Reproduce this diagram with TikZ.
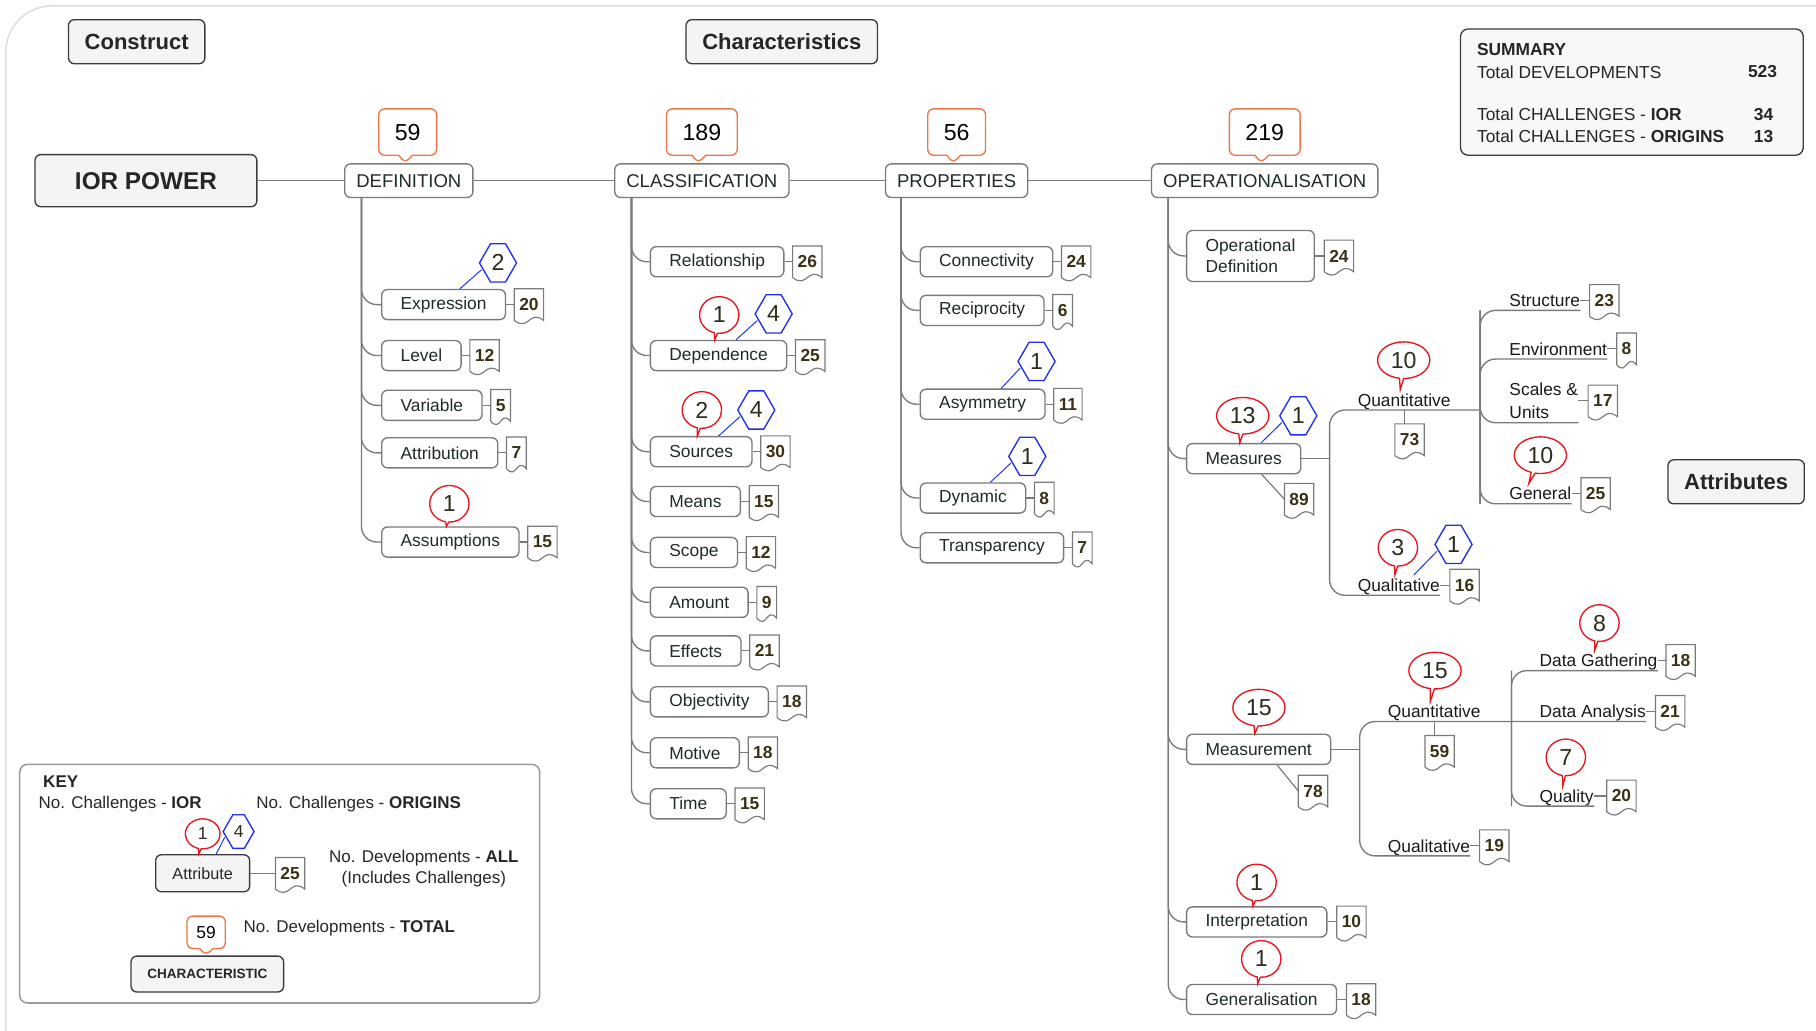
\documentclass[tikz,border=0pt]{standalone}
\usepackage{fontspec}
\setmainfont{Liberation Sans}
\usetikzlibrary{positioning, shapes.callouts, shapes.symbols}

\definecolor{boxtext}{HTML}{1F2A2A}
\definecolor{tagtext}{HTML}{3A3115}
\definecolor{calltext}{HTML}{2E2A1E}
\definecolor{linegray}{HTML}{7A7A7A}
\definecolor{boxborder}{HTML}{7A7A7A}
\definecolor{iorred}{HTML}{E8141E}
\definecolor{originblue}{HTML}{1F2FEF}
\definecolor{totalorange}{HTML}{F0764A}
\definecolor{headfill}{HTML}{F4F4F4}
\definecolor{headborder}{HTML}{3C3C3C}
\definecolor{framegray}{HTML}{DEDEDE}
\definecolor{keygray}{HTML}{9A9A9A}
\definecolor{sumfill}{HTML}{F8F8F8}

\begin{document}
\begin{tikzpicture}[
    x=0.6pt, y=-0.6pt,
    head/.style={draw=headborder, fill=headfill, rounded corners=3pt, line width=0.7pt,
        font=\bfseries\fontsize{11.4}{13}\selectfont, text=black!85, inner xsep=8.4pt, minimum height=22.8pt},
    charbox/.style={draw=boxborder, rounded corners=3pt, line width=0.7pt,
        font=\fontsize{9.6}{11}\selectfont, text=boxtext, inner xsep=6pt, minimum height=17.4pt},
    attr/.style={draw=boxborder, rounded corners=3pt, line width=0.7pt, anchor=west,
        font=\fontsize{9}{10.8}\selectfont, text=boxtext, inner xsep=9.8pt, minimum height=15.6pt},
    leaf/.style={anchor=south west, font=\fontsize{9}{12}\selectfont, text=black!90,
        inner xsep=0pt, inner ysep=1.8pt, text depth=0pt},
    devtag/.style={anchor=west, font=\bfseries\fontsize{9}{10}\selectfont, text=tagtext,
        inner xsep=2.4pt, inner ysep=0pt, minimum height=16pt,
        append after command={\pgfextra{\let\tg\tikzlastnode
            \draw[boxborder, line width=0.6pt] (\tg.south west) -- (\tg.north west)
                -- (\tg.north east) -- (\tg.south east)
                .. controls ([yshift=6pt]\tg.south) and ([yshift=-6pt]\tg.south) .. (\tg.south west);}}},
    total/.style={rectangle callout, draw=totalorange, line width=0.7pt, rounded corners=3pt,
        font=\fontsize{12}{14}\selectfont, inner xsep=8.3pt, minimum height=24pt},
    ior/.style={ellipse callout, callout pointer arc=9, draw=iorred, line width=0.7pt, font=\fontsize{12}{14}\selectfont,
        text=calltext, inner xsep=2.9pt, inner ysep=0pt, minimum width=20.4pt, minimum height=19pt},
    origin/.style={signal, signal to=west and east, signal pointer angle=120, draw=originblue,
        line width=0.7pt, font=\fontsize{12}{14}\selectfont, text=calltext, inner sep=0pt,
        minimum width=19.2pt, minimum height=19.8pt},
    keytext/.style={font=\fontsize{8.8}{10.8}\selectfont, text=black!85, inner sep=0pt},
    sumtext/.style={anchor=west, font=\fontsize{9}{11}\selectfont, text=black!85, inner sep=0pt},
    branch/.style={draw=linegray, line width=0.7pt, rounded corners=8pt},
    link/.style={draw=linegray, line width=0.6pt},
    olink/.style={draw=originblue, line width=0.5pt}
]
\useasboundingbox (0,0) rectangle (1568,890);
\draw[framegray, line width=0.8pt, rounded corners=24pt] (5,5) rectangle (1640,940);

% headings
\node[head] (construct) at (118,36) {Construct};
\node[head] (charac) at (675,36) {Characteristics};
\node[head] (attrhead) at (1499,416) {Attributes};
\node[head, font=\bfseries\fontsize{12.6}{14}\selectfont, inner xsep=20.7pt, minimum height=27pt] (ior) at (126,156) {IOR POWER};

% characteristics
\node[charbox] (defn) at (353,156) {DEFINITION};
\node[charbox] (class) at (606,156) {CLASSIFICATION};
\node[charbox] (props) at (826,156) {PROPERTIES};
\node[charbox] (oper) at (1092,156) {OPERATIONALISATION};
\draw[link] (ior) -- (defn) -- (class) -- (props) -- (oper);

\node[total, callout absolute pointer={([xshift=-2pt]defn.north)}] (defn-t) at (352,114) {59};
\node[total, callout absolute pointer={([xshift=-2pt]class.north)}] (class-t) at (606,114) {189};
\node[total, callout absolute pointer={([xshift=-2pt]props.north)}] (props-t) at (826,114) {56};
\node[total, callout absolute pointer={([xshift=-2pt]oper.north)}] (oper-t) at (1092,114) {219};

% definition
\node[attr] (expr) at (329,263) {Expression};
\node[attr] (level) at (329,307) {Level};
\node[attr] (var) at (329,350) {Variable};
\node[attr] (attrb) at (329,391) {Attribution};
\node[attr] (assum) at (329,468) {Assumptions};
\node[devtag, right=4.2pt of expr] (expr-n) {20};
\node[devtag, right=4.2pt of level] (level-n) {12};
\node[devtag, right=4.2pt of var] (var-n) {5};
\node[devtag, right=4.2pt of attrb] (attrb-n) {7};
\node[devtag, right=4.2pt of assum] (assum-n) {15};
\node[origin] (expr-o) at (430,227) {2};
\node[ior, callout absolute pointer={([xshift=-2pt]assum.north)}] (assum-i) at (388,435) {1};

\draw[branch] ([xshift=9pt]defn.south west) |- (expr.west);
\draw[branch] ([xshift=9pt]defn.south west) |- (level.west);
\draw[branch] ([xshift=9pt]defn.south west) |- (var.west);
\draw[branch] ([xshift=9pt]defn.south west) |- (attrb.west);
\draw[branch] ([xshift=9pt]defn.south west) |- (assum.west);
\draw[link] (expr) -- (expr-n);
\draw[link] (level) -- (level-n);
\draw[link] (var) -- (var-n);
\draw[link] (attrb) -- (attrb-n);
\draw[link] (assum) -- (assum-n);
\draw[olink] ([xshift=8.4pt]expr.north) -- ([shift={(1.5pt,-3.5pt)}]expr-o.west);

% classification
\node[attr] (rel) at (561,226) {Relationship};
\node[attr] (dep) at (561,307) {Dependence};
\node[attr] (src) at (561,390) {Sources};
\node[attr] (means) at (561,433) {Means};
\node[attr] (scope) at (561,477) {Scope};
\node[attr] (amount) at (561,520) {Amount};
\node[attr] (effects) at (561,562) {Effects};
\node[attr] (object) at (561,606) {Objectivity};
\node[attr] (motive) at (561,650) {Motive};
\node[attr] (time) at (561,694) {Time};
\node[devtag, right=4.2pt of rel] (rel-n) {26};
\node[devtag, right=4.2pt of dep] (dep-n) {25};
\node[devtag, right=4.2pt of src] (src-n) {30};
\node[devtag, right=4.2pt of means] (means-n) {15};
\node[devtag, right=4.2pt of scope] (scope-n) {12};
\node[devtag, right=4.2pt of amount] (amount-n) {9};
\node[devtag, right=4.2pt of effects] (effects-n) {21};
\node[devtag, right=4.2pt of object] (object-n) {18};
\node[devtag, right=4.2pt of motive] (motive-n) {18};
\node[devtag, right=4.2pt of time] (time-n) {15};
\node[ior, callout absolute pointer={([xshift=-2pt]dep.north)}] (dep-i) at (621,272) {1};
\node[origin] (dep-o) at (668,271) {4};
\node[ior, callout absolute pointer={([xshift=-2pt]src.north)}] (src-i) at (606,354) {2};
\node[origin] (src-o) at (653,354) {4};

\draw[branch] ([xshift=9pt]class.south west) |- (rel.west);
\draw[branch] ([xshift=9pt]class.south west) |- (dep.west);
\draw[branch] ([xshift=9pt]class.south west) |- (src.west);
\draw[branch] ([xshift=9pt]class.south west) |- (means.west);
\draw[branch] ([xshift=9pt]class.south west) |- (scope.west);
\draw[branch] ([xshift=9pt]class.south west) |- (amount.west);
\draw[branch] ([xshift=9pt]class.south west) |- (effects.west);
\draw[branch] ([xshift=9pt]class.south west) |- (object.west);
\draw[branch] ([xshift=9pt]class.south west) |- (motive.west);
\draw[branch] ([xshift=9pt]class.south west) |- (time.west);
\draw[link] (rel) -- (rel-n);
\draw[link] (dep) -- (dep-n);
\draw[link] (src) -- (src-n);
\draw[link] (means) -- (means-n);
\draw[link] (scope) -- (scope-n);
\draw[link] (amount) -- (amount-n);
\draw[link] (effects) -- (effects-n);
\draw[link] (object) -- (object-n);
\draw[link] (motive) -- (motive-n);
\draw[link] (time) -- (time-n);
\draw[olink] ([xshift=9pt]dep.north) -- ([shift={(1.5pt,-3.5pt)}]dep-o.west);
\draw[olink] ([xshift=9pt]src.north) -- ([shift={(1.5pt,-3.5pt)}]src-o.west);

% properties
\node[attr] (conn) at (794,226) {Connectivity};
\node[attr] (recip) at (794,268) {Reciprocity};
\node[attr] (asym) at (794,349) {Asymmetry};
\node[attr] (dyn) at (794,430) {Dynamic};
\node[attr] (transp) at (794,473) {Transparency};
\node[devtag, right=4.2pt of conn] (conn-n) {24};
\node[devtag, right=4.2pt of recip] (recip-n) {6};
\node[devtag, right=4.2pt of asym] (asym-n) {11};
\node[devtag, right=4.2pt of dyn] (dyn-n) {8};
\node[devtag, right=4.2pt of transp] (transp-n) {7};
\node[origin] (asym-o) at (895,312) {1};
\node[origin] (dyn-o) at (887,394) {1};

\draw[branch] ([xshift=8.4pt]props.south west) |- (conn.west);
\draw[branch] ([xshift=8.4pt]props.south west) |- (recip.west);
\draw[branch] ([xshift=8.4pt]props.south west) |- (asym.west);
\draw[branch] ([xshift=8.4pt]props.south west) |- (dyn.west);
\draw[branch] ([xshift=8.4pt]props.south west) |- (transp.west);
\draw[link] (conn) -- (conn-n);
\draw[link] (recip) -- (recip-n);
\draw[link] (asym) -- (asym-n);
\draw[link] (dyn) -- (dyn-n);
\draw[link] (transp) -- (transp-n);
\draw[olink] ([xshift=9.6pt]asym.north) -- ([shift={(1.5pt,-3.5pt)}]asym-o.west);
\draw[olink] ([xshift=9pt]dyn.north) -- ([shift={(1.5pt,-3.5pt)}]dyn-o.west);

% operationalisation
\node[attr, align=left, minimum height=26.4pt] (opdef) at (1024,221) {Operational\\Definition};
\node[attr] (meas) at (1024,396) {Measures};
\node[attr] (measmt) at (1024,647) {Measurement};
\node[attr] (interp) at (1024,796) {Interpretation};
\node[attr] (gener) at (1024,863) {Generalisation};
\node[devtag, right=4.8pt of opdef] (opdef-n) {24};
\node[devtag] (meas-n) at (1109,431) {89};
\node[devtag] (measmt-n) at (1121,683) {78};
\node[devtag, right=4.8pt of interp] (interp-n) {10};
\node[devtag, right=4.8pt of gener] (gener-n) {18};
\node[ior, inner xsep=2.9pt, callout absolute pointer={([xshift=-2pt]meas.north)}] (meas-i) at (1073,359) {13};
\node[origin] (meas-o) at (1121,359) {1};
\node[ior, callout absolute pointer={([xshift=-2pt]measmt.north)}] (measmt-i) at (1087,611) {15};
\node[ior, callout absolute pointer={([xshift=-2pt]interp.north)}] (interp-i) at (1085,762) {1};
\node[ior, callout absolute pointer={([xshift=-2pt]gener.north)}] (gener-i) at (1089,828) {1};

\draw[branch] ([xshift=9pt]oper.south west) |- (opdef.west);
\draw[branch] ([xshift=9pt]oper.south west) |- (meas.west);
\draw[branch] ([xshift=9pt]oper.south west) |- (measmt.west);
\draw[branch] ([xshift=9pt]oper.south west) |- (interp.west);
\draw[branch] ([xshift=9pt]oper.south west) |- (gener.west);
\draw[link] (opdef) -- (opdef-n);
\draw[link] ([xshift=9.3pt]meas.south) -- (meas-n.west);
\draw[link] ([xshift=9.6pt]measmt.south) -- (measmt-n.west);
\draw[link] (interp) -- (interp-n);
\draw[link] (gener) -- (gener-n);
\draw[olink] ([xshift=9pt]meas.north) -- ([shift={(1.5pt,-3.5pt)}]meas-o.west);

% measures
\coordinate (msplit) at (1148,396);
\coordinate (qsplit) at (1278,354);
\node[leaf] (mqt) at (1172,354) {Quantitative};
\node[leaf] (mql) at (1172,514) {Qualitative};
\node[leaf] (struct) at (1303,268) {Structure};
\node[leaf] (env) at (1303,310) {Environment};
\node[leaf, align=left, text depth=] (scales) at (1303,365) {Scales \&\\Units};
\node[leaf] (gen) at (1303,435) {General};
\node[devtag, anchor=north] (mqt-n) at (1217,366) {73};
\node[devtag, right=5pt of mql] (mql-n) {16};
\node[devtag, right=4.8pt of struct] (struct-n) {23};
\node[devtag, right=4.8pt of env] (env-n) {8};
\node[devtag, right=5pt of scales] (scales-n) {17};
\node[devtag, right=4.8pt of gen] (gen-n) {25};
\node[ior, callout absolute pointer={([xshift=-2pt]mqt.north)}] (mqt-i) at (1212,311) {10};
\node[ior, callout absolute pointer={([xshift=-2pt]mql.north)}] (mql-i) at (1207,473) {3};
\node[origin] (mql-o) at (1255,470) {1};
\node[ior, callout absolute pointer={([xshift=-6pt]gen.north)}] (gen-i) at (1330,393) {10};

\draw[link] (meas) -- (msplit);
\draw[branch] (msplit) |- (qsplit);
\draw[branch] (msplit) |- (mql.south east);
\draw[branch] (qsplit |- gen.south) |- (struct.south east);
\draw[branch] (qsplit |- gen.south) |- (env.south east);
\draw[branch] (qsplit |- struct.south) |- (scales.south east);
\draw[branch] (qsplit |- struct.south) |- (gen.south east);
\draw[link] (mqt.south) -- (mqt.south |- mqt-n.north);
\draw[link] (mql) -- (mql-n);
\draw[link] (struct) -- (struct-n);
\draw[link] (env) -- (env-n);
\draw[link] (scales) -- (scales-n);
\draw[link] (gen) -- (gen-n);
\draw[olink] ([xshift=7.8pt]mql.north) -- ([shift={(1.5pt,-3.5pt)}]mql-o.west);

% measurement
\coordinate (msplit2) at (1174,647);
\coordinate (q2split) at (1305,623);
\node[leaf] (mmqt) at (1198,623) {Quantitative};
\node[leaf] (mmql) at (1198,739) {Qualitative};
\node[leaf] (dgat) at (1329,579) {Data Gathering};
\node[leaf] (dana) at (1329,623) {Data Analysis};
\node[leaf] (qual) at (1329,696) {Quality};
\node[devtag, anchor=north] (mmqt-n) at (1243,635) {59};
\node[devtag, right=4.8pt of mmql] (mmql-n) {19};
\node[devtag, right=4.2pt of dgat] (dgat-n) {18};
\node[devtag, right=4.8pt of dana] (dana-n) {21};
\node[devtag, right=6.6pt of qual] (qual-n) {20};
\node[ior, callout absolute pointer={([xshift=-2pt]mmqt.north)}] (mmqt-i) at (1239,579) {15};
\node[ior, callout absolute pointer={([xshift=-2pt]dgat.north)}] (dgat-i) at (1381,538) {8};
\node[ior, callout absolute pointer={([xshift=-2pt]qual.north)}] (qual-i) at (1352,654) {7};

\draw[link] (measmt) -- (msplit2);
\draw[branch] (msplit2) |- (q2split) -- (dana.south east);
\draw[branch] (msplit2) |- (mmql.south east);
\draw[branch] (q2split |- qual.south) |- (dgat.south east);
\draw[branch] (q2split |- dgat.south) |- (qual.south east);
\draw[link] (mmqt.south) -- (mmqt.south |- mmqt-n.north);
\draw[link] (mmql) -- (mmql-n);
\draw[link] (dgat) -- (dgat-n);
\draw[link] (dana) -- (dana-n);
\draw[link] (qual) -- (qual-n);

% summary
\draw[draw=headborder, fill=sumfill, rounded corners=4pt, line width=0.7pt] (1261,25) rectangle (1557,134);
\node[sumtext, font=\bfseries\fontsize{9}{11}\selectfont] (sum) at (1275,43) {SUMMARY};
\node[sumtext] (sum-dev) at (1275,62) {Total DEVELOPMENTS};
\node[sumtext] (sum-ior) at (1275,99) {Total CHALLENGES - \textbf{IOR}};
\node[sumtext] (sum-orig) at (1275,118) {Total CHALLENGES - \textbf{ORIGINS}};
\node[sumtext, font=\bfseries\fontsize{9}{11}\selectfont] (sum-dev-n) at (1509,62) {523};
\node[sumtext, font=\bfseries\fontsize{9}{11}\selectfont] (sum-ior-n) at (1514,99) {34};
\node[sumtext, font=\bfseries\fontsize{9}{11}\selectfont] (sum-orig-n) at (1514,118) {13};

% key
\draw[keygray, rounded corners=4pt, line width=0.8pt] (17,660) rectangle (466,866);
\node[keytext, anchor=west, font=\bfseries\fontsize{8.8}{10.8}\selectfont] (key) at (37,675) {KEY};
\node[keytext, anchor=west] (key-ior) at (33,694) {No. Challenges - \textbf{IOR}};
\node[keytext, anchor=west] (key-orig) at (221,694) {No. Challenges - \textbf{ORIGINS}};
\node[head, font=\fontsize{8.4}{10}\selectfont, inner xsep=8.7pt, minimum height=19.2pt] (key-attr) at (175,754) {Attribute};
\node[devtag, right=13pt of key-attr] (key-attr-n) {25};
\node[ior, font=\fontsize{9}{10}\selectfont, minimum width=18pt, minimum height=15.6pt, callout absolute pointer={([xshift=-2pt]key-attr.north)}] (key-attr-i) at (175,720) {1};
\node[origin, font=\fontsize{9}{10}\selectfont, minimum width=16pt, minimum height=17.4pt] (key-attr-o) at (206,718) {4};
\node[keytext, align=center] (key-all) at (366,750) {No. Developments - \textbf{ALL}\\(Includes Challenges)};
\node[head, font=\bfseries\fontsize{7}{8}\selectfont, minimum width=79pt, minimum height=18.6pt] (key-char) at (179,841) {CHARACTERISTIC};
\node[total, font=\fontsize{9}{10}\selectfont, inner xsep=4.9pt, minimum height=16.8pt, callout absolute pointer={([xshift=-1pt]key-char.north)}] (key-tot) at (178,805) {59};
\node[keytext, anchor=west] (key-total) at (210,801) {No. Developments - \textbf{TOTAL}};
\draw[link] (key-attr) -- (key-attr-n);
\draw[olink] ([xshift=7pt]key-attr.north) -- ([shift={(1.2pt,-3pt)}]key-attr-o.west);

\end{tikzpicture}
\end{document}
